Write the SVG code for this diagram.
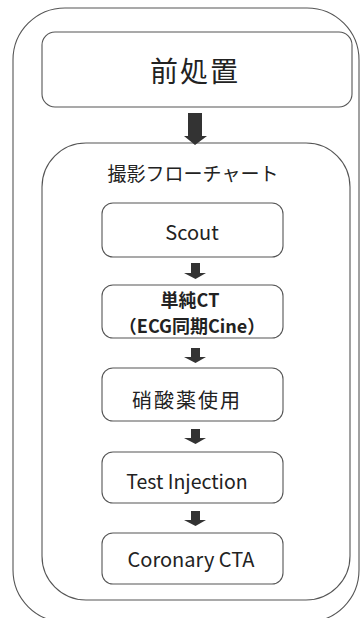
<svg xmlns="http://www.w3.org/2000/svg" width="360" height="618" viewBox="0 0 360 618">
<style>
.box{fill:#fff;stroke:#555;stroke-width:1.1}
.t{font-family:"Noto Sans CJK JP","Liberation Sans",sans-serif;fill:#222;text-anchor:middle}
.ar{fill:#333}
</style>
<rect width="360" height="618" fill="#fff"/>
<g id="outer"><rect class="box" x="13" y="8" width="346" height="614" rx="52"/></g>
<g id="pre"><rect class="box" x="42" y="32" width="310" height="75" rx="13"/>
<text class="t" x="195" y="82" font-size="28" letter-spacing="2">前処置</text></g>
<g id="flow"><rect class="box" x="42" y="143" width="308" height="457" rx="44"/>
<text class="t" x="193" y="181" font-size="19">撮影フローチャート</text></g>
<g id="scout"><rect class="box" x="102" y="203" width="181" height="54" rx="11"/>
<text class="t" x="192" y="240" font-size="20">Scout</text></g>
<g id="plain"><rect class="box" x="102" y="285" width="181" height="53" rx="11"/>
<text class="t" x="190" y="307" font-size="18" font-weight="bold">単純CT</text>
<text class="t" x="192" y="333" font-size="18" font-weight="bold">（ECG同期Cine）</text></g>
<g id="nitro"><rect class="box" x="102" y="368" width="181" height="53" rx="11"/>
<text class="t" x="187" y="408" font-size="20" letter-spacing="2">硝酸薬使用</text></g>
<g id="test"><rect class="box" x="102" y="452" width="181" height="51" rx="11"/>
<text class="t" x="187" y="489" font-size="19.5">Test Injection</text></g>
<g id="cta"><rect class="box" x="102" y="533" width="181" height="51" rx="11"/>
<text class="t" x="191" y="567" font-size="20">Coronary CTA</text></g>
<g id="connectors">
<polygon class="ar" points="188,113 202,113 202,136 207,136 195,145 184,136 188,136"/>
<polygon class="ar" points="191,263 200,263 200,273 206,273 195.5,279 184,273 191,273"/>
<polygon class="ar" points="191,348 200,348 200,357 206,357 195.5,363 184,357 191,357"/>
<polygon class="ar" points="191,429 200,429 200,438 206,438 195.5,444 184,438 191,438"/>
<polygon class="ar" points="191,511 200,511 200,520 206,520 195.5,526 184,520 191,520"/>
</g>
</svg>
